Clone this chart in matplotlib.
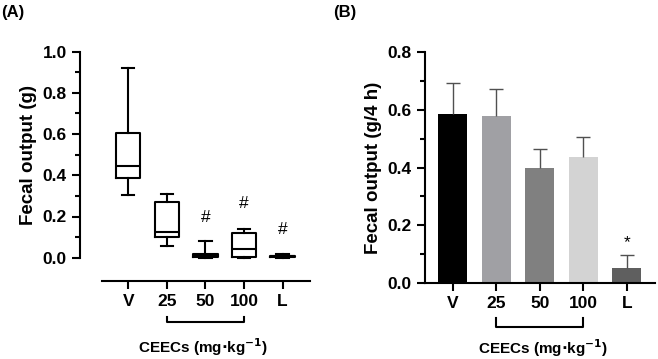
"""Fecal output: box plot (A) and bar chart (B)."""
import numpy as np
import matplotlib.pyplot as plt
from matplotlib.ticker import MultipleLocator

plt.rcParams.update({
    "font.family": ["Liberation Sans", "DejaVu Sans"],
    "font.weight": "bold",
    "axes.labelweight": "bold",
})

# ---- data ----
groups = ["V", "25", "50", "100", "L"]

# panel A: box stats (g)
box_whislo = [0.305, 0.058, 0.0, 0.0, 0.0]
box_q1 = [0.385, 0.099, 0.004, 0.002, 0.002]
box_med = [0.445, 0.126, 0.010, 0.040, 0.006]
box_q3 = [0.604, 0.272, 0.016, 0.120, 0.010]
box_whishi = [0.919, 0.309, 0.083, 0.139, 0.018]
hash_groups = [2, 3, 4]
hash_y = [0.16, 0.225, 0.10]

# panel B: mean + SEM (g/4 h)
bar_mean = [0.584, 0.578, 0.400, 0.435, 0.052]
bar_err = [0.109, 0.094, 0.063, 0.069, 0.046]
bar_colors = ["#000000", "#a0a0a4", "#808080", "#d3d3d3", "#5f5f5f"]
star_group = 4
star_y = 0.115

W, H = 658, 359
fig = plt.figure(figsize=(W / 100, H / 100), dpi=100)


def frac(x0, y0, x1, y1):
    return [x0 / W, 1 - y1 / H, (x1 - x0) / W, (y1 - y0) / H]


def style_y(ax, major, minor, top):
    ax.set_ylim(0, top)
    ax.yaxis.set_major_locator(MultipleLocator(major))
    ax.yaxis.set_minor_locator(MultipleLocator(minor))
    ax.yaxis.set_major_formatter(lambda v, p: f"{v:.1f}")
    for s in ["top", "right"]:
        ax.spines[s].set_visible(False)
    for s in ["left", "bottom"]:
        ax.spines[s].set_linewidth(1.5)
    ax.tick_params(axis="both", which="major", length=6, width=1.5, labelsize=12.5)
    ax.tick_params(axis="y", which="minor", length=3.5, width=1.5)
    ax.tick_params(axis="x", which="minor", bottom=False)


def bracket(ax, x0, x1, ytop, ybot, label_y, label_x):
    tr = ax.get_xaxis_transform()
    ax.plot([x0, x0, x1, x1], [ytop, ybot, ybot, ytop], color="black",
            lw=1.5, transform=tr, clip_on=False)
    ax.text(label_x, label_y, r"CEECs (mg$\cdot$kg$^{\mathbf{-1}}$)",
            transform=tr, ha="center", va="center", fontsize=11, fontweight="bold")


# ---- (A) box plot ----
axA = fig.add_axes(frac(80, 51.7, 310, 257.7))
stats = [dict(whislo=a, q1=b, med=c, q3=d, whishi=e, label=g)
         for a, b, c, d, e, g in zip(box_whislo, box_q1, box_med, box_q3, box_whishi, groups)]
xA = np.arange(len(groups))
axA.bxp(stats, positions=xA, widths=0.63, capwidths=0.32, showfliers=False,
        boxprops=dict(lw=1.5, color="black"), whiskerprops=dict(lw=1.5, color="black"),
        capprops=dict(lw=1.5, color="black"), medianprops=dict(lw=1.5, color="black"))
for ln in axA.lines:
    ln.set_clip_on(False)
axA.set_xlim(-1.25, 4.71)
style_y(axA, 0.2, 0.1, 1.0)
axA.spines["left"].set_bounds(0, 1.0)
axA.spines["bottom"].set_position(("outward", 16.8))
axA.spines["bottom"].set_bounds(-0.69, 4.71)
axA.set_xticks(xA, groups)
axA.tick_params(axis="x", pad=3)
axA.set_ylabel("Fecal output (g)", fontsize=13.5, labelpad=4)
for g, y in zip(hash_groups, hash_y):
    axA.text(xA[g], y, "#", ha="center", va="bottom", fontsize=12.5, fontweight="normal")
bracket(axA, xA[1], xA[3], -0.286, -0.311, -0.432, 1.95)
fig.text(1 / W, 1 - 12 / H, "(A)", fontsize=12, fontweight="bold", va="center")

# ---- (B) bar chart ----
axB = fig.add_axes(frac(425, 51.7, 655, 283.3))
xB = np.arange(len(groups))
axB.bar(xB, bar_mean, width=0.67, color=bar_colors, zorder=2)
eb = axB.errorbar(xB, bar_mean, yerr=[np.zeros(len(bar_err)), bar_err], fmt="none",
                  ecolor="#505050", elinewidth=1.0, capsize=5, capthick=1.0, zorder=3)
eb[1][0].set_visible(False)  # drop the zero-length lower caps
axB.set_xlim(-0.637, 4.65)
style_y(axB, 0.2, 0.1, 0.8)
axB.set_xticks(xB, groups)
axB.tick_params(axis="x", pad=3)
axB.set_ylabel("Fecal output (g/4 h)", fontsize=13.5, labelpad=4)
axB.text(xB[star_group], star_y, "*", ha="center", va="bottom", fontsize=12.5, fontweight="normal")
bracket(axB, xB[1], xB[3], -0.15, -0.189, -0.279, 2.07)
fig.text(333 / W, 1 - 12 / H, "(B)", fontsize=12, fontweight="bold", va="center")

fig.savefig("out.png", dpi=100)
